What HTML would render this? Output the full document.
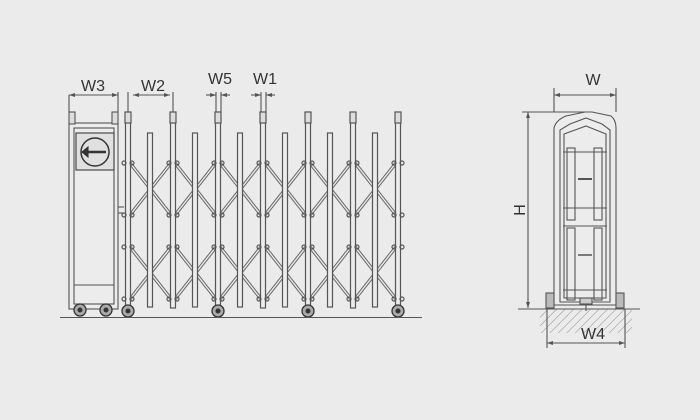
<!DOCTYPE html>
<html><head><meta charset="utf-8"><style>
html,body{margin:0;padding:0;background:#ebebeb;}
svg{display:block;}
text{font-family:"Liberation Sans",sans-serif;fill:#333;}
</style></head><body>
<svg width="700" height="420" viewBox="0 0 700 420" xmlns="http://www.w3.org/2000/svg">
<defs>
<pattern id="h" width="6" height="6" patternUnits="userSpaceOnUse" patternTransform="rotate(45)">
<line x1="0" y1="0" x2="0" y2="6" stroke="#888" stroke-width="1"/>
</pattern>
<g id="cell">
<g stroke="#666" stroke-width="3.4">
<line x1="2" y1="163" x2="43" y2="215"/><line x1="2" y1="215" x2="43" y2="163"/>
<line x1="2" y1="247" x2="43" y2="299"/><line x1="2" y1="299" x2="43" y2="247"/>
</g>
<g stroke="#ececec" stroke-width="1.4">
<line x1="2" y1="163" x2="43" y2="215"/><line x1="2" y1="215" x2="43" y2="163"/>
<line x1="2" y1="247" x2="43" y2="299"/><line x1="2" y1="299" x2="43" y2="247"/>
</g>
</g>
<g id="tall" stroke="#555" stroke-width="1.2" fill="none">
<rect x="-2.5" y="120" width="5" height="188" fill="#ececec"/>
<rect x="-3" y="112" width="6" height="11" fill="#ddd"/>
<circle cx="-4" cy="163" r="2"/><circle cx="4" cy="163" r="2"/>
<circle cx="-4" cy="215" r="2"/><circle cx="4" cy="215" r="2"/>
<circle cx="-4" cy="247" r="2"/><circle cx="4" cy="247" r="2"/>
<circle cx="-4" cy="299" r="2"/><circle cx="4" cy="299" r="2"/>
</g>
<g id="short"><rect x="-2.5" y="133" width="5" height="174" fill="#ececec" stroke="#555" stroke-width="1.2"/></g>
<g id="wheel"><circle cx="0" cy="311" r="6" fill="#aaa" stroke="#333" stroke-width="1.3"/><circle cx="0" cy="311" r="2.5" fill="#333"/></g>
</defs>
<rect width="700" height="420" fill="#ebebeb"/>
<use href="#cell" x="128"/><use href="#cell" x="173"/><use href="#cell" x="218"/>
<use href="#cell" x="263"/><use href="#cell" x="308"/><use href="#cell" x="353"/>
<use href="#short" x="150"/><use href="#short" x="195"/><use href="#short" x="240"/>
<use href="#short" x="285"/><use href="#short" x="330"/><use href="#short" x="375"/>
<use href="#tall" x="128"/><use href="#tall" x="173"/><use href="#tall" x="218"/><use href="#tall" x="263"/>
<use href="#tall" x="308"/><use href="#tall" x="353"/><use href="#tall" x="398"/>
<use href="#wheel" x="128"/><use href="#wheel" x="218"/><use href="#wheel" x="308"/><use href="#wheel" x="398"/>
<g stroke="#555" stroke-width="1.1" fill="none">
<line x1="60" y1="317.5" x2="422" y2="317.5" stroke="#555"/>
<rect x="69" y="123" width="49" height="186" fill="#ececec"/>
<rect x="74" y="128" width="40" height="176"/>
<rect x="76" y="133" width="38" height="37" fill="#e0e0e0" stroke-width="1.3"/>
<circle cx="95" cy="152" r="14" stroke="#333" stroke-width="1.5"/>
<line x1="86" y1="152" x2="106" y2="152" stroke="#333" stroke-width="2.5"/>
<path d="M82 152 L88 147 L88 157 Z" fill="#333" stroke="#333"/>
<rect x="69" y="112" width="6" height="12" fill="#ddd"/>
<rect x="112" y="112" width="6" height="12" fill="#ddd"/>
<line x1="74" y1="285" x2="114" y2="285"/>
<line x1="118" y1="207" x2="124" y2="207"/>
<line x1="118" y1="213" x2="124" y2="213"/>
<line x1="69" y1="95" x2="69" y2="112"/>
<line x1="118" y1="92" x2="118" y2="112"/>
<line x1="69" y1="95" x2="118" y2="95"/>
<line x1="128" y1="92" x2="128" y2="112"/>
<line x1="173" y1="92" x2="173" y2="112"/>
<line x1="133" y1="95" x2="170" y2="95"/>
<line x1="216" y1="92" x2="216" y2="112"/><line x1="221" y1="92" x2="221" y2="112"/>
<line x1="206" y1="95" x2="216" y2="95"/><line x1="221" y1="95" x2="230" y2="95"/>
<line x1="261" y1="92" x2="261" y2="112"/><line x1="266" y1="92" x2="266" y2="112"/>
<line x1="251" y1="95" x2="261" y2="95"/><line x1="266" y1="95" x2="275" y2="95"/>
</g>
<g transform="translate(80,-1)"><use href="#wheel"/></g>
<g transform="translate(106,-1)"><use href="#wheel"/></g>
<g stroke="#555" stroke-width="1.1" fill="none">
<path d="M554 305 L554 128 Q556 120 566 116 L585 112 L592 112 L611 116 Q616 120 616 128 L616 305 Z" fill="#ececec"/>
<path d="M560 302 L560 130 L570 124 L586 118 L602 124 L610 130 L610 302 Z"/>
<path d="M564 298 L564 134 L586 126 L606 134 L606 298 Z"/>
<rect x="567" y="148" width="8" height="72"/><rect x="594" y="148" width="8" height="72"/>
<rect x="567" y="228" width="8" height="72"/><rect x="594" y="228" width="8" height="72"/>
<line x1="563" y1="152" x2="607" y2="152"/><line x1="563" y1="208" x2="607" y2="208"/>
<line x1="563" y1="226" x2="607" y2="226"/><line x1="563" y1="290" x2="607" y2="290"/>
<line x1="578" y1="179" x2="592" y2="179" stroke-width="2"/>
<line x1="578" y1="255" x2="592" y2="255" stroke-width="1.5"/>
<rect x="546" y="293" width="8" height="15" fill="#bbb"/><rect x="616" y="293" width="8" height="15" fill="#bbb"/>
<rect x="580" y="298" width="12" height="6" fill="#ccc"/>
<line x1="586" y1="304" x2="586" y2="311"/>
<rect x="540" y="309" width="92" height="24" fill="url(#h)" stroke="none"/>
<line x1="518" y1="309" x2="640" y2="309" stroke="#555"/>
<line x1="554" y1="88" x2="554" y2="112"/><line x1="616" y1="88" x2="616" y2="112"/>
<line x1="554" y1="95" x2="616" y2="95"/>
<line x1="522" y1="112" x2="585" y2="112"/>
<line x1="528" y1="112" x2="528" y2="308"/>
<line x1="547" y1="309" x2="547" y2="348"/><line x1="625" y1="309" x2="625" y2="348"/>
<line x1="547" y1="343" x2="625" y2="343"/>
</g>
<g fill="#555" stroke="none">
<path d="M69 95 l6 -2 v4z"/><path d="M118 95 l-6 -2 v4z"/>
<path d="M133 95 l6 -2 v4z"/><path d="M170 95 l-6 -2 v4z"/>
<path d="M216 95 l-6 -2 v4z"/><path d="M221 95 l6 -2 v4z"/>
<path d="M261 95 l-6 -2 v4z"/><path d="M266 95 l6 -2 v4z"/>
<path d="M554 95 l6 -2 v4z"/><path d="M616 95 l-6 -2 v4z"/>
<path d="M528 112 l-2 6 h4z"/><path d="M528 308 l-2 -6 h4z"/>
<path d="M547 343 l6 -2 v4z"/><path d="M625 343 l-6 -2 v4z"/>
</g>
<text x="93" y="91" font-size="16" text-anchor="middle">W3</text>
<text x="153" y="91" font-size="16" text-anchor="middle">W2</text>
<text x="220" y="84" font-size="16" text-anchor="middle">W5</text>
<text x="265" y="84" font-size="16" text-anchor="middle">W1</text>
<text x="593" y="85" font-size="16" text-anchor="middle">W</text>
<text x="593" y="339" font-size="16" text-anchor="middle">W4</text>
<text x="0" y="0" font-size="16" text-anchor="middle" transform="translate(525,210) rotate(-90)">H</text>
</svg>
</body></html>
